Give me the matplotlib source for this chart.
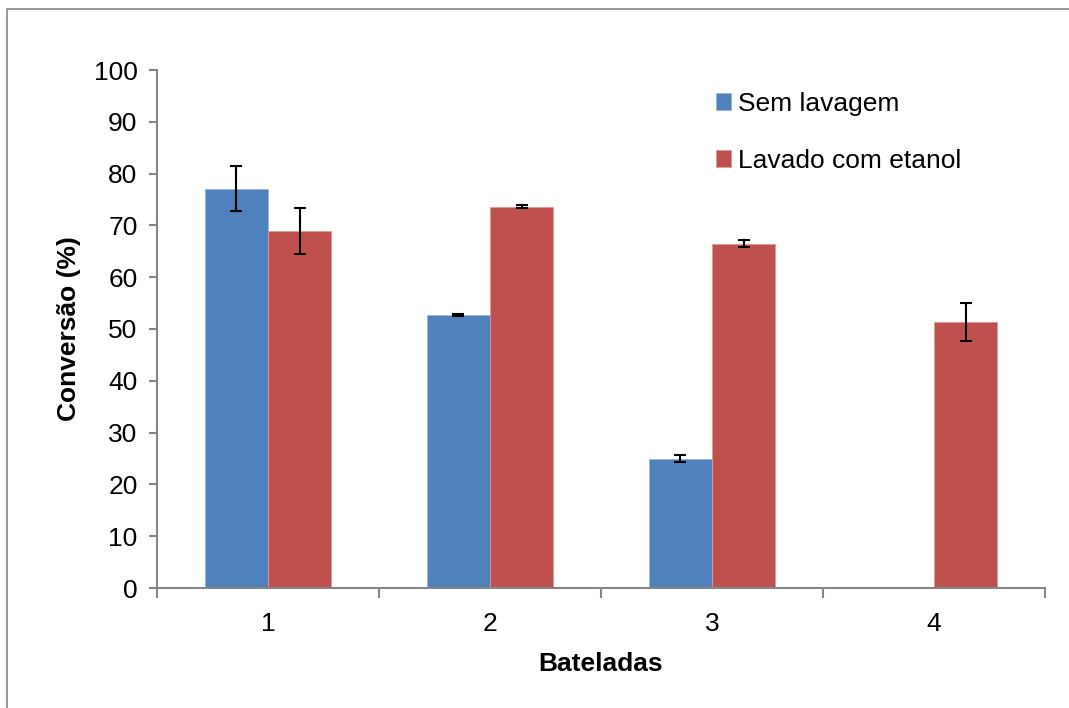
import matplotlib.pyplot as plt
import numpy as np
from matplotlib.lines import Line2D

plt.rcParams['font.family'] = ['Liberation Sans', 'DejaVu Sans']

# Data
bateladas = ['1', '2', '3', '4']
sem_lavagem = [77.1, 52.7, 25.0, np.nan]
sem_lavagem_err = [4.4, 0.2, 0.6, np.nan]
lavado_etanol = [68.9, 73.6, 66.5, 51.3]
lavado_etanol_err = [4.4, 0.3, 0.6, 3.7]

blue = '#4F81BD'
red = '#C0504D'
grey = '#868686'

fig = plt.figure(figsize=(10.69, 7.08), dpi=100)
# Excel chart-area frame (only top and left edges fall inside the picture)
fx, fy = 7 / 1069, 1 - 9 / 708
fig.lines.append(Line2D([fx, fx, 1.0], [0.0, fy, fy], transform=fig.transFigure,
                        color=grey, linewidth=1.2))
ax = fig.add_axes([157 / 1069, 1 - 588 / 708, 888 / 1069, 518 / 708])

x = np.arange(len(bateladas))
w = 0.284
err_kw = dict(ecolor='black', elinewidth=1.5, capsize=4.5, capthick=1.5)
ax.bar(x - w / 2, sem_lavagem, w, yerr=sem_lavagem_err, color=blue,
       edgecolor='#9DB6D9', linewidth=0.6, label='Sem lavagem', error_kw=err_kw)
ax.bar(x + w / 2, lavado_etanol, w, yerr=lavado_etanol_err, color=red,
       edgecolor='#DC9A98', linewidth=0.6, label='Lavado com etanol', error_kw=err_kw)

ax.set_xlim(-0.5, 3.5)
ax.set_ylim(0, 100)
ax.set_yticks(np.arange(0, 101, 10))
ax.set_xticks(x)
ax.set_xticklabels(bateladas)
ax.set_xticks(np.arange(-0.5, 3.6, 1), minor=True)
ax.tick_params(axis='x', which='major', length=0, labelsize=19, pad=17)
ax.tick_params(axis='x', which='minor', length=7, width=1.5, color=grey, direction='out')
ax.tick_params(axis='y', length=6, width=1.5, color=grey, labelsize=19, pad=8)

for s in ['top', 'right']:
    ax.spines[s].set_visible(False)
for s in ['left', 'bottom']:
    ax.spines[s].set_color(grey)
    ax.spines[s].set_linewidth(1.5)

ax.set_xlabel('Bateladas', fontsize=19, fontweight='bold', labelpad=12)
ax.set_ylabel('Conversão (%)', fontsize=19, fontweight='bold', labelpad=9)

leg = ax.legend(loc='upper left', bbox_to_anchor=(0.629, 0.958), frameon=False,
                fontsize=19, handlelength=0.6, handleheight=0.6, handletextpad=0.25,
                labelspacing=1.25, borderpad=0, borderaxespad=0)

fig.savefig('out.png', dpi=100)
